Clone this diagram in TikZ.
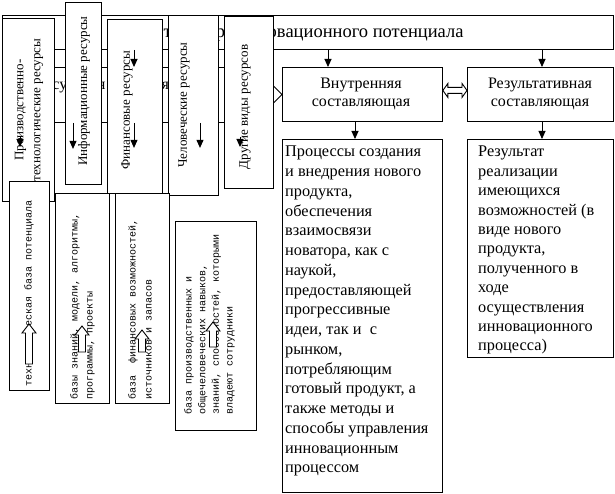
\documentclass[tikz,border=0pt]{standalone}
\usepackage{fontspec}
\setmainfont{Liberation Serif}
\setmonofont{Liberation Mono}
\usetikzlibrary{arrows.meta,calc}

% hollow block arrow pointing up: x, tip y, bottom y
\newcommand{\hollowup}[3]{%
  \draw[hollow] ({#1-3.5},#3) -- ({#1-3.5},{#2+9}) -- ({#1-7},{#2+9}) -- (#1,#2)
    -- ({#1+7},{#2+9}) -- ({#1+3.5},{#2+9}) -- ({#1+3.5},#3) -- cycle;}

\tikzset{
  box/.style={draw, line width=0.9pt, fill=white, inner sep=0pt, anchor=north west},
  txt/.style={inner sep=0pt, font=\fontsize{16}{18}\selectfont},
  vtxt/.style={inner sep=0pt, rotate=90, align=center, font=\fontsize{13}{17}\selectfont},
  mtxt/.style={inner sep=0pt, rotate=90, anchor=west, align=left},
  arr/.style={-{Triangle[width=7pt,length=8pt]}, line width=0.9pt},
  hollow/.style={draw, line width=0.9pt, fill=white, line join=miter}
}

\begin{document}
\begin{tikzpicture}[x=1pt, y=-1pt]
    \fill[white] (0,0) rectangle (615,494);
    \useasboundingbox (0,0) rectangle (615,494);

    % title and the three components
    \node[box, minimum width=611, minimum height=34] (title) at (2,15) {};
    \node[txt, font=\fontsize{18.5}{20}\selectfont] (titletxt) at (307.5,33) {Структура инновационного потенциала};
    \node[box, minimum width=228, minimum height=55] (res) at (8,67) {};
    \node[txt, anchor=base] (restxt) at (122,90) {Ресурсная составляющая};
    \node[box, minimum width=160, minimum height=54] (inner) at (282,67) {};
    \node[txt, align=center] (innertxt) at (361,94) {Внутренняя\\составляющая};
    \node[box, minimum width=146, minimum height=54] (result) at (467,67) {};
    \node[txt, align=center] (resulttxt) at (540,94) {Результативная\\составляющая};

    \draw[arr] (328,0 |- title.south) -- (328,0 |- inner.north);
    \draw[arr] (542,0 |- title.south) -- (542,0 |- result.north);

    % double hollow arrows
    \draw[hollow] (res.east) -- ++(9,-9) -- ++(0,5.5) -- ($(inner.west)+(-9,-3.5)$) -- ++(0,-5.5)
        -- (inner.west) -- ++(-9,9) -- ++(0,-5.5) -- ($(res.east)+(9,3.5)$) -- ++(0,5.5) -- cycle;
    \draw[hollow] ($(inner.east)+(0,-4)$) -- ++(5,-7) -- ++(0,4) -- ($(result.west)+(-5,-7)$) -- ++(0,-4)
        -- ($(result.west)+(0,-4)$) -- ++(-5,7) -- ++(0,-4) -- ($(inner.east)+(5,-1)$) -- ++(0,4) -- cycle;

    % lower boxes on the right
    \node[box, minimum width=160, minimum height=353] (proc) at (282,139) {};
    \node[box, minimum width=146, minimum height=218] (outcome) at (467,139) {};
    \draw[arr] (355,0 |- inner.south) -- (355,0 |- proc.north);
    \draw[arr] (542,0 |- result.south) -- (542,0 |- outcome.north);
    \node[txt, anchor=north west, align=left, font=\fontsize{16.3}{19.75}\selectfont] (proctxt) at (285,146)
        {Процессы создания\\и внедрения нового\\продукта,\\обеспечения\\взаимосвязи\\новатора, как с\\наукой,\\предоставляющей\\прогрессивные\\идеи, так и\ \ с\\рынком,\\потребляющим\\готовый продукт, а\\также методы и\\способы управления\\инновационным\\процессом};
    \node[txt, anchor=north west, align=left, font=\fontsize{16.3}{19.4}\selectfont] (outcometxt) at (478,146)
        {Результат\\реализации\\имеющихся\\возможностей (в\\виде нового\\продукта,\\полученного в\\ходе\\осуществления\\инновационного\\процесса)};

    % resource boxes
    \node[box, minimum width=52, minimum height=183] (prod) at (2,18) {};
    \node[vtxt] (prodtxt) at (29,110) {Производственно-\\технологические ресурсы};
    \node[box, minimum width=36, minimum height=182] (info) at (65,2) {};
    \node[vtxt] (infotxt) at (84,91) {Информационные ресурсы};
    \node[box, minimum width=55, minimum height=174] (fin) at (107,19) {};
    \node[vtxt] (fintxt) at (127,110) {Финансовые ресурсы};
    \node[box, minimum width=50, minimum height=180] (hum) at (168,15) {};
    \node[vtxt] (humtxt) at (184,105) {Человеческие ресурсы};
    \node[box, minimum width=49, minimum height=172] (other) at (224,16) {};
    \node[vtxt] (othertxt) at (245,107) {Другие виды ресурсов};

    \draw[arr] (134,0 |- title.south) -- (134,0 |- res.north);
    \draw[arr] (20,137) -- (20,147);
    \draw[arr] (73,0 |- res.south) -- ++(0,26);
    \draw[arr] (134,0 |- res.south) -- ++(0,25);
    \draw[arr] (200,0 |- res.south) -- ++(0,25);
    \draw[arr] (240,137) -- (240,147);

    % base boxes
    \node[box, minimum width=40, minimum height=209] (techbase) at (9,181) {};
    \node[mtxt, font=\ttfamily\fontsize{10}{15}\selectfont] (techtxt) at (29,387) {технологическая база потенциала};
    \node[box, minimum width=54, minimum height=210] (knowbase) at (55,193) {};
    \node[mtxt, font=\ttfamily\fontsize{10}{15}\selectfont] (knowtxt) at (82.5,400) {базы знаний, модели, алгоритмы,\\программы, проекты};
    \node[box, minimum width=54, minimum height=210] (finbase) at (115,193) {};
    \node[mtxt, font=\ttfamily\fontsize{10}{16}\selectfont] (finbtxt) at (140,400) {база\ \ финансовых возможностей,\\источников и запасов};
    \node[box, minimum width=81, minimum height=209] (skillbase) at (175,221) {};
    \node[mtxt, font=\ttfamily\fontsize{10}{13.7}\selectfont] (skilltxt) at (209.5,415) {база производственных и\\общечеловеческих навыков,\\знаний, способностей, которыми\\владеют сотрудники};

    \hollowup{29}{324}{364}
    \hollowup{82}{326}{352}
    \hollowup{142}{330}{352}
    \hollowup{213}{322}{347}
\end{tikzpicture}
\end{document}
